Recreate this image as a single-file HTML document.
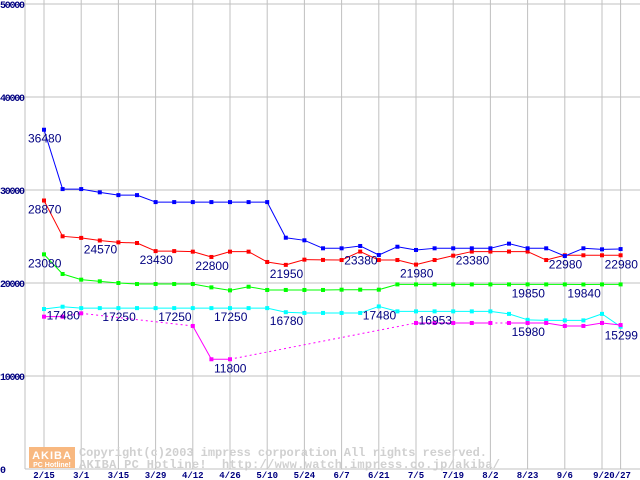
<!DOCTYPE html>
<html><head><meta charset="utf-8"><style>
body{margin:0;background:#fff;}
svg{display:block;}
text{font-family:"Liberation Sans",sans-serif;}
</style></head><body>
<svg id="chart" width="640" height="480" xmlns="http://www.w3.org/2000/svg">
<g id="grid"></g>
<g id="yaxis"></g>
<g id="xaxis"></g>
<g id="watermark">
<rect x="29" y="447" width="46" height="21" fill="#f8b880"/>
<text x="52" y="459" font-size="11" font-weight="bold" fill="#fff" text-anchor="middle" letter-spacing="1">AKIBA</text>
<text x="52" y="467" font-size="7" font-weight="bold" fill="#fff" text-anchor="middle">PC Hotline!</text>
<text x="79" y="456" font-size="12" font-weight="bold" fill="#d0d0d0" textLength="408" lengthAdjust="spacing" style="font-family:'Liberation Mono',monospace">Copyright(c)2003 impress corporation All rights reserved.</text>
<text x="79" y="468" font-size="12" font-weight="bold" fill="#d0d0d0" textLength="421" lengthAdjust="spacing" xml:space="preserve" style="font-family:'Liberation Mono',monospace">AKIBA PC Hotline!  http://www.watch.impress.co.jp/akiba/</text>
</g>
<g id="series"></g>
<g id="labels"></g>
</svg>
<script>
const xTickLabels=["2/15","3/1","3/15","3/29","4/12","4/26","5/10","5/24","6/7","6/21","7/5","7/19","8/2","8/23","9/6","9/20/27"];
const xTickIndex=[0,2,4,6,8,10,12,14,16,18,20,22,24,26,28,30];
const yTicks=[0,10000,20000,30000,40000,50000];
const blue=[36480,30100,30100,29750,29450,29450,28700,28700,28700,28700,28699,28699,28699,24870,24590,23730,23730,23980,23010,23900,23550,23730,23730,23730,23730,24230,23730,23730,22900,23730,23620,23650];
const red=[28870,25020,24850,24570,24370,24300,23430,23430,23370,22800,23370,23370,22260,21950,22510,22480,22470,23380,22470,22470,21980,22470,22940,23380,23380,23380,23380,22470,22980,22980,22980,22980];
const green=[23080,20970,20360,20180,20000,19890,19890,19890,19890,19530,19210,19600,19250,19250,19250,19250,19280,19280,19280,19850,19850,19850,19850,19850,19850,19850,19850,19850,19850,19840,19850,19850];
const cyan=[17200,17450,17300,17300,17300,17300,17300,17300,17300,17300,17300,17300,17300,16860,16780,16780,16780,16780,17480,16950,16950,16950,16950,16950,16950,16680,16040,15980,15980,15980,16680,15299];
const magenta=[16380,16380,16740,null,null,null,null,null,15380,11800,11800,null,null,null,null,null,null,null,null,null,15700,15700,15700,15700,15700,15700,15700,15700,15380,15380,15700,15480];
const magentaDashed=[false,false,true,false,false,false,false,false,true,false,false,false,false,false,false,false,false,false,false,false,true,false,false,false,false,true,false,false,false,false,false,false];
const labelText=["36480","28870","23080","17480","24570","17250","23430","17250","22800","17250","11800","21950","16780","23380","17480","21980","16953","23380","19850","15980","22980","19840","22980","15299"];
const labelIndex=[0,0,0,1,3,4,6,7,9,10,10,13,13,17,18,20,21,23,26,26,28,29,31,31];
const labelSeries=["blue","red","green","cyan","red","cyan","red","cyan","red","cyan","magenta","red","cyan","red","cyan","red","cyan","red","green","magenta","red","green","red","cyan"];

const NS="http://www.w3.org/2000/svg";
const X0=44,DX=18.6,Y0=469,KY=0.0093;
function x(i){return X0+i*DX;}
function y(v){return Y0-v*KY;}
function mk(tag,attrs,parent){const e=document.createElementNS(NS,tag);for(const k in attrs)e.setAttribute(k,attrs[k]);parent.appendChild(e);return e;}
const grid=document.getElementById('grid'),yaxis=document.getElementById('yaxis'),xaxis=document.getElementById('xaxis'),ser=document.getElementById('series'),lab=document.getElementById('labels');
yTicks.forEach(v=>{
 const l=mk('line',{x1:25,x2:640,y1:y(v),y2:y(v),stroke:'#c0c0c0','stroke-width':1},grid);
 
 
 const t=mk('text',{x:0,y:y(v)+4,'font-size':10,'font-weight':'bold',fill:'#000080',style:"font-family:'Liberation Mono',monospace"},yaxis);
 if(v>0){t.setAttribute('textLength',25);}
 t.textContent=String(v);
 
 
});
const ax=mk('line',{x1:25,x2:25,y1:0,y2:Y0,stroke:'#c0c0c0','stroke-width':1},grid);


const vIdx=xTickIndex.concat([31]);
vIdx.forEach(i=>{
 const l=mk('line',{x1:x(i),x2:x(i),y1:0,y2:Y0,stroke:'#c0c0c0','stroke-width':1},grid);
 
 
});
xTickLabels.forEach((s,k)=>{
 const i=xTickIndex[k];
 const cx=k==xTickLabels.length-1?x(i)+10:x(i);
 const t=mk('text',{x:cx,y:478,'font-size':9,'font-weight':'bold',fill:'#000080','text-anchor':'middle',style:"font-family:'Liberation Mono',monospace"},xaxis);
 t.textContent=s;
 
 
});
const seriesMap={blue:[blue,'#0000ff'],red:[red,'#ff0000'],green:[green,'#00ff00'],cyan:[cyan,'#00ffff'],magenta:[magenta,'#ff00ff']};
function draw(name,vals,col,dashed){
 const g=mk('g',{},ser);
 
 
 let prev=-1;
 vals.forEach((v,i)=>{
  if(v==null)return;
  if(prev>=0){
   const gap=i-prev>1||(dashed&&dashed[i]);
   const l=mk('line',{x1:x(prev),y1:y(vals[prev]),x2:x(i),y2:y(v),stroke:col,'stroke-width':1},g);
   if(gap)l.setAttribute('stroke-dasharray','2,3');
   
   
  }
  prev=i;
 });
 vals.forEach((v,i)=>{
  if(v==null)return;
  const r=mk('rect',{x:x(i)-2,y:y(v)-2,width:4,height:4,fill:col},g);
  
  
 });
}
['green','cyan','magenta','red','blue'].forEach(n=>draw(n,seriesMap[n][0],seriesMap[n][1],n=='magenta'?magentaDashed:null));
labelText.forEach((s,k)=>{
 const i=labelIndex[k];const v=seriesMap[labelSeries[k]][0][i];
 const t=mk('text',{x:x(i)-16,y:y(v)+13,'font-size':12,fill:'#000080'},lab);
 t.textContent=s;
 
 
});
</script>
</body></html>
